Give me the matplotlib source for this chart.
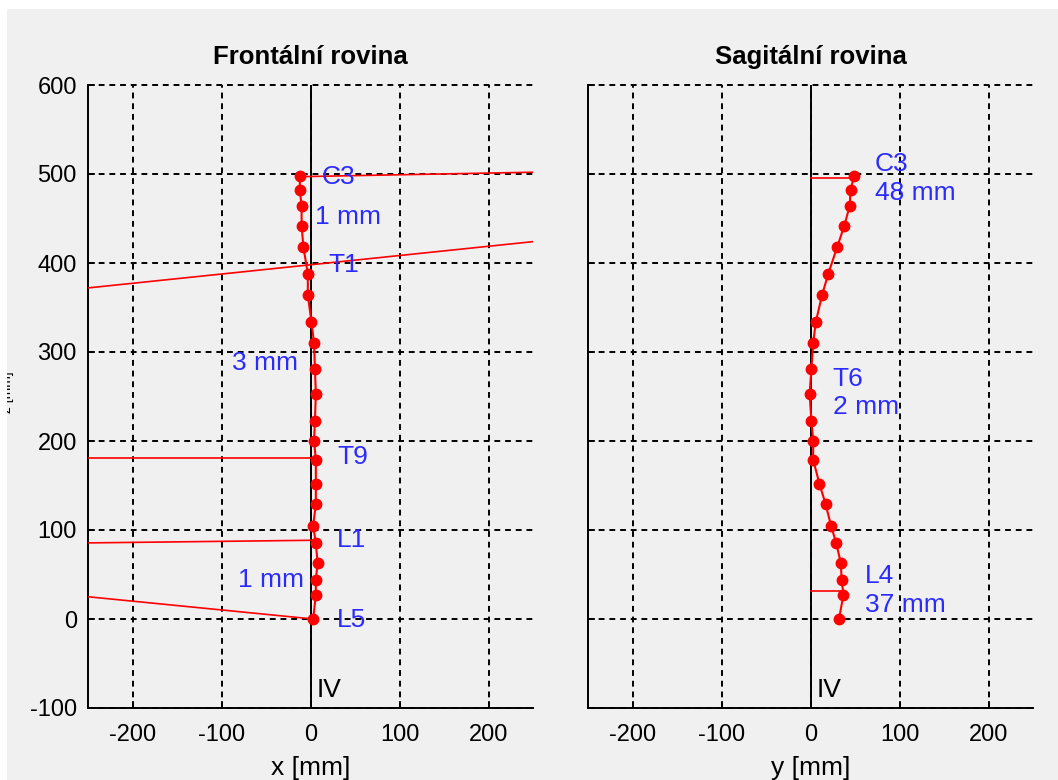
import matplotlib
matplotlib.use("Agg")
import matplotlib.pyplot as plt
from matplotlib.patches import Rectangle

plt.rcParams["font.family"] = ["Liberation Sans", "DejaVu Sans"]
plt.rcParams["axes.unicode_minus"] = False

# --- spine model: C3 .. L5 ---
vert_names = ["C3", "C4", "C5", "C6", "C7",
              "T1", "T2", "T3", "T4", "T5", "T6", "T7", "T8", "T9", "T10", "T11", "T12",
              "L1", "L2", "L3", "L4", "L5"]
vert_z = [498, 482, 464, 442, 418, 388, 364, 334, 310, 281, 253,
          223, 200, 179, 152, 129, 105, 85, 63, 44, 27, 0]
front_x = [-12, -12, -10, -10, -8, -3, -3, 1, 4, 5, 6,
           5, 4, 6, 6, 6, 3, 6, 8, 6, 6, 3]
sag_y = [49, 45, 44, 38, 30, 20, 13, 6, 3, 1, -1,
         1, 3, 3, 10, 17, 23, 29, 34, 35, 37, 32]

# frontal plane: tilt lines through selected vertebrae
front_lines = {
    "C3": ([-12, 250], [497, 502]),
    "T1": ([-250, 250], [372, 424]),
    "T9": ([-250, 6], [181, 181]),
    "L1": ([-250, 6], [85.5, 88.5]),
    "L5": ([-250, 3], [25, 0]),
}
front_tags = ["C3", "T1", "T9", "L1", "L5"]
front_tag_pos = [(13, 497), (20, 398), (30, 182), (30, 89), (30, -1)]
front_dev_text = ["1 mm", "3 mm", "1 mm"]
front_dev_pos = [(5, 452), (-88, 288), (-82, 44)]

# sagittal plane: offsets from the vertical
sag_lines = {
    "C3": ([0, 49], [495, 495]),
    "L4": ([0, 37], [32, 32]),
}
sag_text = ["C3\n48 mm", "T6\n2 mm", "L4\n37 mm"]
sag_text_pos = [(72, 495), (25, 254), (61, 32)]

x_ticks = [-200, -100, 0, 100, 200]
z_ticks = [-100, 0, 100, 200, 300, 400, 500, 600]

bg = "#f0f0f0"
blue = "#2b2bff"
W, H = 1058, 780

fig = plt.figure(figsize=(W / 100, H / 100), dpi=100, facecolor=bg)
ax1 = fig.add_axes([88 / W, 1 - 708 / H, 445 / W, 623 / H])
ax2 = fig.add_axes([588 / W, 1 - 708 / H, 445 / W, 623 / H])


def setup(ax, title, xlabel, show_y):
    ax.set_facecolor(bg)
    ax.set_xlim(-250, 250)
    ax.set_ylim(-100, 600)
    ax.set_xticks(x_ticks)
    ax.set_yticks(z_ticks)
    ax.grid(True, color="black", linestyle=(0, (3, 2.5)), linewidth=1.4)
    for gl in ax.get_xgridlines() + ax.get_ygridlines():
        gl.set_clip_on(False)
    ax.set_axisbelow(True)
    for s in ["top", "right"]:
        ax.spines[s].set_visible(False)
    for s in ["left", "bottom"]:
        ax.spines[s].set_linewidth(1.4)
    ax.tick_params(direction="in", length=5, width=1.2, labelsize=17)
    ax.tick_params(axis="x", pad=11.5)
    ax.tick_params(axis="y", pad=8)
    if not show_y:
        ax.tick_params(axis="y", labelleft=False)
    ax.set_title(title, fontsize=18.5, fontweight="bold", pad=15)
    ax.set_xlabel(xlabel, fontsize=19, labelpad=7)
    ax.axvline(0, color="black", linewidth=1.4, zorder=2)
    ax.text(7, -80, "IV", fontsize=19, va="center", ha="left", color="black")


setup(ax1, "Frontální rovina", "x [mm]", True)
setup(ax2, "Sagitální rovina", "y [mm]", False)

# frontal plane
for name, (lx, lz) in front_lines.items():
    ax1.plot(lx, lz, color="red", linewidth=1.2, zorder=3)
ax1.plot(front_x, vert_z, color="red", linewidth=1.5, marker="o",
         markersize=7.5, zorder=4)
for tag, (tx, tz) in zip(front_tags, front_tag_pos):
    ax1.text(tx, tz, tag, color=blue, fontsize=19, va="center", ha="left", zorder=5)
for txt, (tx, tz) in zip(front_dev_text, front_dev_pos):
    ax1.text(tx, tz, txt, color=blue, fontsize=19, va="center", ha="left", zorder=5)

# sagittal plane
for name, (ly, lz) in sag_lines.items():
    ax2.plot(ly, lz, color="red", linewidth=1.2, zorder=3)
ax2.plot(sag_y, vert_z, color="red", linewidth=1.5, marker="o",
         markersize=7.5, zorder=4)
for txt, (tx, tz) in zip(sag_text, sag_text_pos):
    ax2.text(tx, tz, txt, color=blue, fontsize=19, va="center", ha="left",
             linespacing=1.25, zorder=5)

# y label squeezed against the window edge
fig.text(14 / W, 1 - 392 / H, "z [mm]", rotation=90, fontsize=10,
         ha="right", va="center")

# window border strips
fig.add_artist(Rectangle((0, 0), 7 / W, 1, transform=fig.transFigure,
                         facecolor="white", edgecolor="none", zorder=10))
fig.add_artist(Rectangle((0, 1 - 9 / H), 1, 9 / H, transform=fig.transFigure,
                         facecolor="white", edgecolor="none", zorder=10))

fig.savefig("out.png", dpi=100, facecolor=bg)
